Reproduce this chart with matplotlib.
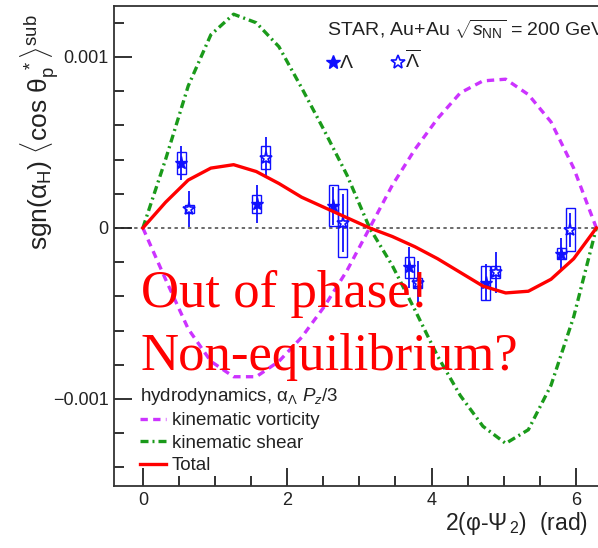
import matplotlib
matplotlib.use("Agg")
import matplotlib.pyplot as plt
from matplotlib.patches import Rectangle
from matplotlib.ticker import MultipleLocator

plt.rcParams['font.family'] = ['Liberation Sans', 'DejaVu Sans']
plt.rcParams['mathtext.fontset'] = 'custom'
plt.rcParams['mathtext.rm'] = 'Liberation Sans'
plt.rcParams['mathtext.it'] = 'Liberation Sans:italic'
plt.rcParams['mathtext.bf'] = 'Liberation Sans:bold'

# --- model curves (hydro), read at steps of pi/10 ---
phi = [0.0, 0.314, 0.628, 0.942, 1.257, 1.571, 1.885, 2.199, 2.513, 2.827, 3.142,
       3.456, 3.770, 4.084, 4.398, 4.712, 5.027, 5.341, 5.655, 5.969, 6.283]
vorticity = [0.0, -0.00030, -0.00059, -0.00078, -0.00087, -0.00087, -0.00078, -0.00064,
             -0.00046, -0.00025, 0.0, 0.00025, 0.00046, 0.00064, 0.00079, 0.00086,
             0.00087, 0.00078, 0.00062, 0.00035, 0.0]
shear = [0.0, 0.00040, 0.00083, 0.00113, 0.00125, 0.00120, 0.00106, 0.00082, 0.00057,
         0.00031, 0.0, -0.00022, -0.00048, -0.00075, -0.00098, -0.00116, -0.00126,
         -0.00118, -0.00092, -0.00052, 0.0]
total = [0.0, 0.00015, 0.00028, 0.00035, 0.00037, 0.00033, 0.00026, 0.00018, 0.00012,
         0.00006, 0.0, -0.00005, -0.00011, -0.00018, -0.00026, -0.00034, -0.00038,
         -0.00037, -0.00030, -0.00018, 0.0]

# --- STAR data ---
lam_x = [0.53, 1.58, 2.64, 3.69, 4.75, 5.80]
lam_y = [0.00038, 0.00014, 0.00013, -0.00023, -0.00032, -0.00015]
lam_stat = [0.00010, 0.00011, 0.00011, 0.00012, 0.00011, 0.00009]
lam_sys = [0.000065, 0.00005, 0.00012, 0.00006, 0.0001, 0.00003]

lbar_x = [0.64, 1.70, 2.77, 3.81, 4.89, 5.92]
lbar_y = [0.00011, 0.00041, 0.00003, -0.00032, -0.00026, -0.00001]
lbar_stat = [0.000105, 0.00012, 0.00017, 0.000125, 0.00012, 0.00010]
lbar_sys = [0.000025, 0.000068, 0.0002, 0.00003, 0.000035, 0.000125]

blue = '#1010ff'
txt = '#222222'
fig = plt.figure(figsize=(5.98, 5.48), dpi=100)
ax = fig.add_axes([114/598, 62/548, 511/598, 480/548])
ax.set_xlim(-0.40, 6.68)
ax.set_ylim(-0.001509, 0.001298)

ax.axhline(0, color='#444444', lw=1.1, ls=(0, (2.2, 2.2)), zorder=1)

# systematic boxes
for xs, ys, ss in [(lam_x, lam_y, lam_sys), (lbar_x, lbar_y, lbar_sys)]:
    for x, y, s in zip(xs, ys, ss):
        ax.add_patch(Rectangle((x - 0.062, y - s), 0.124, 2 * s, fill=False,
                               ec=blue, lw=1.0, zorder=2))
ax.errorbar(lam_x, lam_y, yerr=lam_stat, fmt='none', ecolor=blue, elinewidth=1.3,
            capsize=0, zorder=2)
ax.errorbar(lbar_x, lbar_y, yerr=lbar_stat, fmt='none', ecolor=blue, elinewidth=1.3,
            capsize=0, zorder=2)
ax.plot(lam_x, lam_y, ls='none', marker='*', ms=9.5, color=blue, zorder=3)
ax.plot(lbar_x, lbar_y, ls='none', marker='*', ms=9.5, mfc='white', mec=blue,
        mew=1.2, zorder=3)

ax.plot(phi, vorticity, color='#cc33ff', lw=2.4, ls=(0, (2.2, 1.6)), zorder=3,
        label='kinematic vorticity')
ax.plot(phi, shear, color='#1a9a1a', lw=2.4, ls=(0, (2.4, 1.2, 0.6, 1.2)), zorder=3,
        label='kinematic shear')
ax.plot(phi, total, color='#ff0000', lw=2.4, zorder=4, label='Total')

# axes styling (ROOT-like)
ax.spines['right'].set_visible(False)
for side in ['left', 'bottom', 'top']:
    ax.spines[side].set_linewidth(1.3)
    ax.spines[side].set_color('#333333')
ax.set_xticks([0, 2, 4, 6])
ax.xaxis.set_minor_locator(MultipleLocator(0.5))
ax.set_yticks([-0.001, 0, 0.001])
ax.set_yticklabels(['\u22120.001', '0', '0.001'])
ax.yaxis.set_minor_locator(MultipleLocator(0.0002))
ax.tick_params(which='both', direction='in', top=False, right=False,
               labelsize=13, colors=txt, width=1.3)
ax.tick_params(which='major', length=13, pad=4)
ax.tick_params(which='minor', length=7)

fig.text(40/598, 1 - 132/548,
         'sgn(α$_{\\mathrm{H}}$) $\\langle$cos θ$_{\\mathrm{p}}^{\\ *}\\rangle^{\\mathrm{sub}}$',
         rotation=90, ha='center', va='center', fontsize=19, color=txt)
fig.text(445/598, 1 - 530/548, '2(φ-Ψ$_{\\,\\mathrm{2}}$)  (rad)', ha='left',
         va='baseline', fontsize=16.5, color=txt)

fig.text(327/598, 1 - 36/548, r'STAR, Au+Au $\sqrt{s_{\mathrm{NN}}}$ = 200 GeV',
         ha='left', va='baseline', fontsize=14, color=txt)
ax.plot([0.4286], [0.883], transform=ax.transAxes, marker='*', ms=10, color=blue,
        ls='none', clip_on=False)
fig.text(340/598, 1 - 68/548, 'Λ', fontsize=14, color=txt, va='baseline')
ax.plot([0.556], [0.883], transform=ax.transAxes, marker='*', ms=10, mfc='white',
        mec=blue, mew=1.2, ls='none', clip_on=False)
fig.text(405/598, 1 - 68/548, r'$\overline{\Lambda}$', fontsize=14, color=txt,
         va='baseline')

leg = fig.legend(loc='upper left', bbox_to_anchor=(140/598, 1 - 386/548),
                 frameon=False, fontsize=13.5, handlelength=1.4, handletextpad=0.3,
                 labelspacing=0.28, borderpad=0, borderaxespad=0,
                 title='hydrodynamics, α$_{\\Lambda}$ $P_{z}$/3',
                 title_fontsize=13.5, alignment='left')
for t in leg.get_texts():
    t.set_color(txt)
leg.get_title().set_color(txt)

fig.text(141/598, 1 - 307/548, 'Out of phase!', family='Liberation Serif',
         fontsize=38, color='#ff0000', ha='left', va='baseline', zorder=10)
fig.text(141/598, 1 - 370/548, 'Non-equilibrium?', family='Liberation Serif',
         fontsize=38, color='#ff0000', ha='left', va='baseline', zorder=10)

fig.savefig('out.png', dpi=100)
